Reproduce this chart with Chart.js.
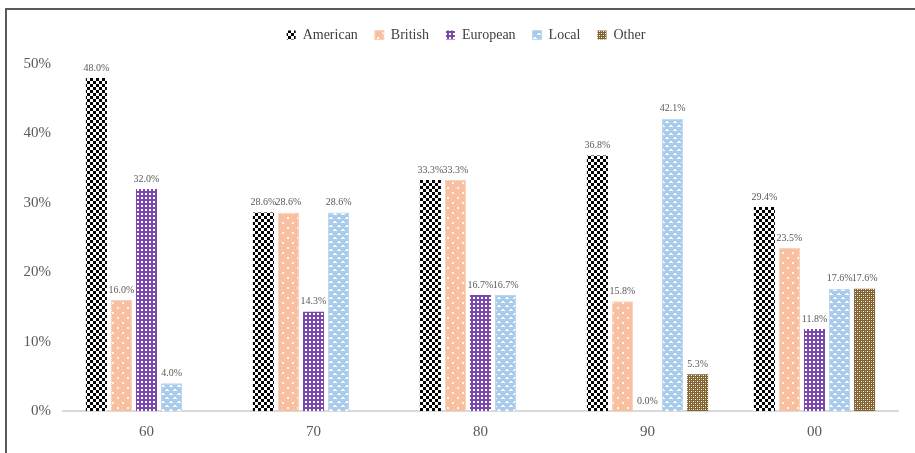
<!DOCTYPE html>
<html lang="en">
<head>
    <meta charset="UTF-8">
    <title>Origin share by decade</title>
    <script src="https://cdn.jsdelivr.net/npm/chart.js"></script>
</head>
<style>
    html, body{
        margin: 0;
        padding: 0;
        background: #fff;
        overflow: hidden;
    }
    #frame{
        position: absolute;
        left: 5px;
        top: 8px;
        width: 2000px;
        height: 2000px;
        border-top: 2px solid #5a5a5a;
        border-left: 2px solid #5a5a5a;
    }
    #chartCanvas{
        position: absolute;
        left: 0;
        top: 0;
    }
</style>
<body>
    <div id="frame"></div>
    <canvas id="chartCanvas" width="915" height="453"></canvas>

    <script>
        var decades = ['60', '70', '80', '90', '00'];
        var american = [48.0, 28.6, 33.3, 36.8, 29.4];
        var british = [16.0, 28.6, 33.3, 15.8, 23.5];
        var european = [32.0, 14.3, 16.7, 0.0, 11.8];
        var local = [4.0, 28.6, 16.7, 42.1, 17.6];
        var other = [null, null, null, 5.3, 17.6];
        var yTicks = [0, 10, 20, 30, 40, 50];

        var serif = "'Liberation Serif', 'DejaVu Serif', serif";

        // small tiles used as fill patterns for each series
        function makePattern(w, h, draw) {
            var c = document.createElement('canvas');
            c.width = w;
            c.height = h;
            var g = c.getContext('2d');
            draw(g);
            return g.createPattern(c, 'repeat');
        }

        var ctx = document.getElementById('chartCanvas').getContext('2d');

        var checkerFill = makePattern(6, 6, function (g) {
            g.fillStyle = '#fff';
            g.fillRect(0, 0, 6, 6);
            g.fillStyle = '#000';
            g.fillRect(0, 0, 3, 3);
            g.fillRect(3, 3, 3, 3);
        });
        var dotFill = makePattern(10, 10, function (g) {
            g.fillStyle = '#f8c0a0';
            g.fillRect(0, 0, 10, 10);
            g.fillStyle = 'rgba(255,255,255,0.85)';
            g.fillRect(2, 2, 2, 2);
            g.fillRect(7, 7, 2, 2);
        });
        var gridFill = makePattern(4, 4, function (g) {
            g.fillStyle = '#7a48ad';
            g.fillRect(0, 0, 4, 4);
            g.fillStyle = '#fff';
            g.fillRect(1, 1, 2, 2);
        });
        var waveFill = makePattern(8, 8, function (g) {
            g.fillStyle = '#a9cbec';
            g.fillRect(0, 0, 8, 8);
            g.fillStyle = '#fff';
            g.fillRect(1, 2, 4, 1);
            g.fillRect(2, 1, 2, 1);
            g.fillRect(5, 6, 3, 1);
            g.fillRect(0, 6, 1, 1);
            g.fillRect(6, 5, 2, 1);
        });
        var trellisFill = makePattern(4, 4, function (g) {
            g.fillStyle = '#7f6230';
            g.fillRect(0, 0, 4, 4);
            g.fillStyle = '#fff';
            g.fillRect(1, 1, 1, 1);
            g.fillRect(3, 3, 1, 1);
            g.fillStyle = '#c9b48a';
            g.fillRect(3, 1, 1, 1);
            g.fillRect(1, 3, 1, 1);
        });

        // value labels above each bar
        var barLabels = {
            id: 'barLabels',
            afterDatasetsDraw: function (chart) {
                var c = chart.ctx;
                c.save();
                c.font = '10px ' + serif;
                c.fillStyle = '#595959';
                c.textAlign = 'center';
                c.textBaseline = 'bottom';
                chart.data.datasets.forEach(function (ds, i) {
                    chart.getDatasetMeta(i).data.forEach(function (bar, j) {
                        var v = ds.data[j];
                        if (v === null) return;
                        c.fillText(v.toFixed(1) + '%', bar.x, bar.y - 5);
                    });
                });
                c.restore();
            }
        };

        // fixed legend band height, and the legend nudged a little to the right
        var legendHeight = {
            id: 'legendHeight',
            beforeLayout: function (chart) {
                var lg = chart.legend;
                if (lg && !lg._fixed) {
                    var fit = lg.fit;
                    lg.fit = function () {
                        fit.call(this);
                        this.height = 53;
                    };
                    lg._fixed = true;
                }
            },
            afterLayout: function (chart) {
                var lg = chart.legend;
                if (lg) {
                    lg.left += 17;
                    lg.right += 17;
                }
            }
        };

        new Chart(ctx, {
            type: 'bar',
            data: {
                labels: decades,
                datasets: [
                    { label: 'American', data: american, backgroundColor: checkerFill },
                    { label: 'British', data: british, backgroundColor: dotFill, borderColor: '#fad2bc', borderWidth: 1 },
                    { label: 'European', data: european, backgroundColor: gridFill },
                    { label: 'Local', data: local, backgroundColor: waveFill, borderColor: '#bcd7f0', borderWidth: 1 },
                    { label: 'Other', data: other, backgroundColor: trellisFill }
                ]
            },
            options: {
                responsive: false,
                animation: false,
                layout: {
                    padding: { top: 11, right: 17, left: 0, bottom: 0 }
                },
                datasets: {
                    bar: {
                        categoryPercentage: 0.75,
                        barPercentage: 0.84
                    }
                },
                plugins: {
                    legend: {
                        position: 'top',
                        labels: {
                            boxWidth: 9,
                            boxHeight: 9,
                            padding: 17,
                            color: '#404040',
                            font: { family: serif, size: 14 }
                        }
                    },
                    tooltip: { enabled: false }
                },
                scales: {
                    x: {
                        grid: { display: false, drawTicks: false },
                        border: { display: true, color: '#d9d9d9', width: 2 },
                        ticks: {
                            padding: 12,
                            color: '#595959',
                            font: { family: serif, size: 15 }
                        },
                        afterFit: function (s) { s.height = 42; }
                    },
                    y: {
                        min: 0,
                        max: 50,
                        grid: { display: false, drawTicks: false },
                        border: { display: false },
                        afterBuildTicks: function (s) {
                            s.ticks = yTicks.map(function (v) { return { value: v }; });
                        },
                        ticks: {
                            padding: 12,
                            color: '#595959',
                            font: { family: serif, size: 15 },
                            callback: function (v) { return v + '%'; }
                        },
                        afterFit: function (s) { s.width = 63; }
                    }
                }
            },
            plugins: [legendHeight, barLabels]
        });
    </script>
</body>
</html>
